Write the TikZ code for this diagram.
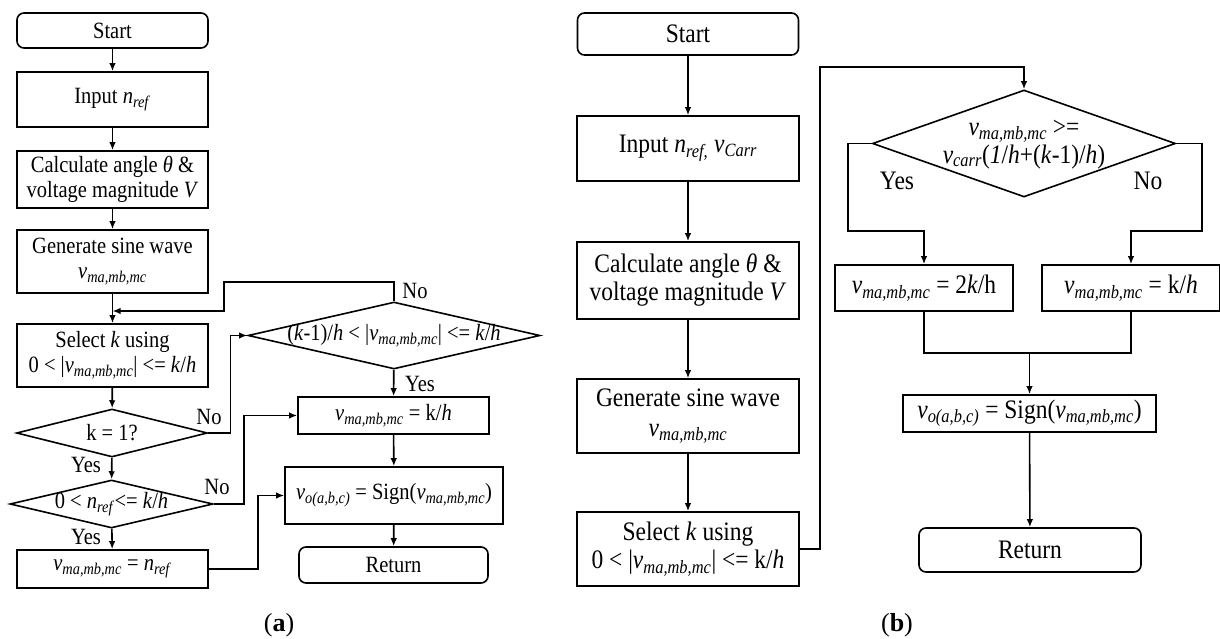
\documentclass[tikz,border=0pt]{standalone}
\usepackage{fontspec}
\setmainfont[FakeStretch=0.88]{Liberation Serif}
\newfontfamily\capfont{Liberation Serif}
\usetikzlibrary{shapes.geometric,arrows.meta}

\newcommand{\vsb}[1]{\textit{v}\textsubscript{\textit{#1}}}
\newcommand{\nrf}{\textit{n}\textsubscript{\textit{ref}}}
\newcommand{\dtxt}[1]{\makebox[0pt]{#1}}

\begin{document}
\begin{tikzpicture}[x=1pt, y=-1pt, line width=1.6pt, >={Latex[length=8pt,width=6.5pt]},
  box/.style={draw, rectangle, align=center, inner sep=0pt},
  term/.style={box, rounded corners=7pt},
  decide/.style={draw, diamond, inner sep=0pt},
  fa/.style={font=\fontsize{23.3}{25}\selectfont},
  fb/.style={font=\fontsize{26.7}{28}\selectfont},
  lbla/.style={fa, inner sep=0pt},
  lblb/.style={fb, inner sep=0pt}]
  \useasboundingbox (0,0) rectangle (1220,639);
  % (a)
  \node[term, fa, minimum width=191pt, minimum height=35pt] (startA) at (112.5,30.5) {Start};
  \node[box, fa, minimum width=191pt, minimum height=55pt] (inA) at (112.5,99.5) {Input \nrf};
  \node[box, fa, minimum width=191pt, minimum height=57pt] (calcA) at (112.5,179.5) {Calculate angle \textit{θ} \&\\voltage magnitude \textit{V}};
  \node[box, fa, minimum width=191pt, minimum height=63pt] (genA) at (112.5,261.5) {Generate sine wave\\\vsb{ma,mb,mc}};
  \node[box, fa, minimum width=191pt, minimum height=63pt] (selA) at (112.5,355.5) {Select \textit{k} using\\0 < |\vsb{ma,mb,mc}| <= \textit{k}/\textit{h}};
  \node[decide, fa, minimum width=191pt, minimum height=48pt] (dk1) at (112,433) {\dtxt{k = 1?}};
  \node[decide, fa, minimum width=203pt, minimum height=48pt] (dnref) at (111.5,504) {\dtxt{0 < \nrf <= \textit{k}/\textit{h}}};
  \node[box, fa, minimum width=191pt, minimum height=38pt] (setA) at (112.5,569) {\vsb{ma,mb,mc} = \nrf};
  \node[decide, fa, minimum width=292pt, minimum height=67pt] (drange) at (394,335.5) {\dtxt{(\textit{k}-1)/\textit{h} < |\vsb{ma,mb,mc}| <= \textit{k}/\textit{h}}};
  \node[box, fa, minimum width=191pt, minimum height=37pt] (kA) at (393.5,415.5) {\vsb{ma,mb,mc} = k/\textit{h}};
  \node[box, fa, minimum width=218pt, minimum height=57pt] (signA) at (394,495.5) {\vsb{o(a,b,c)} = Sign(\vsb{ma,mb,mc})};
  \node[term, fa, minimum width=189pt, minimum height=36pt] (retA) at (393.5,565) {Return};
  \coordinate (mergeA) at (112.5,311);

  \draw[->] (startA) -- (inA);
  \draw[->] (inA) -- (calcA);
  \draw[->] (calcA) -- (genA);
  \draw[->] (genA) -- (selA);
  \draw[->] (selA) -- (dk1);
  \draw[->] (dk1) -- (dnref);
  \draw[->] (dnref) -- (setA);
  \draw[->] (dk1.east) -- ++(22,0) |- (drange.west);
  \draw[->] (dnref.east) -- ++(30,0) |- (kA.west);
  \draw[->] (setA.east) -- ++(49,0) |- (signA.west);
  \draw[->] (drange.north) |- (224,282) |- (mergeA);
  \draw[->] (drange) -- (kA);
  \draw[->] (kA) -- (signA);
  \draw[->] (signA) -- (retA);

  \node[lbla] (noA1) at (415,291) {No};
  \node[lbla] (noA2) at (209,417) {No};
  \node[lbla] (yesA1) at (86,465) {Yes};
  \node[lbla] (noA3) at (217,487) {No};
  \node[lbla] (yesA2) at (86,537) {Yes};
  \node[lbla] (yesA3) at (420,384) {Yes};
  \node[font=\capfont\fontsize{26}{30}\selectfont] (capA) at (279,625) {(\textbf{a})};

  % (b)
  \node[term, fb, minimum width=221pt, minimum height=42pt] (startB) at (688,34) {Start};
  \node[box, fb, minimum width=222pt, minimum height=65pt] (inB) at (688,148.5) {Input \textit{n}\textsubscript{\textit{ref,}} \vsb{Carr}};
  \node[box, fb, minimum width=222pt, minimum height=77pt] (calcB) at (688,280.5) {Calculate angle \textit{θ} \&\\voltage magnitude \textit{V}};
  \node[box, fb, minimum width=222pt, minimum height=74pt] (genB) at (688,416) {Generate sine wave\\[2pt]\vsb{ma,mb,mc}};
  \node[box, fb, minimum width=222pt, minimum height=74pt] (selB) at (688,549) {Select \textit{k} using\\0 < |\vsb{ma,mb,mc}| <= k/\textit{h}};
  \node[decide, fb, minimum width=303pt, minimum height=107pt] (dcarr) at (1024,143.5) {\dtxt{\raisebox{4pt}{\begin{tabular}{@{}c@{}}\vsb{ma,mb,mc} >=\\\vsb{carr}(\textit{1}/\textit{h}+(\textit{k}-1)/\textit{h})\end{tabular}}}};
  \node[box, fb, minimum width=178pt, minimum height=46pt] (k2B) at (924,288) {\vsb{ma,mb,mc} = 2\textit{k}/h};
  \node[box, fb, minimum width=178pt, minimum height=46pt] (k1B) at (1131,288) {\vsb{ma,mb,mc} = k/\textit{h}};
  \node[box, fb, minimum width=253pt, minimum height=37pt] (signB) at (1029.5,413.5) {\vsb{o(a,b,c)} = Sign(\vsb{ma,mb,mc})};
  \node[term, fb, minimum width=222pt, minimum height=44pt] (retB) at (1030,550) {Return};
  \coordinate (joinB) at (1029.5,353);

  \draw[->] (startB) -- (inB);
  \draw[->] (inB) -- (calcB);
  \draw[->] (calcB) -- (genB);
  \draw[->] (genB) -- (selB);
  \draw[->] (selB.east) -| (820,67) -| (dcarr.north);
  \draw[->] (dcarr.west) -| (848,231) -| (k2B.north);
  \draw[->] (dcarr.east) -| (1202,231) -| (k1B.north);
  \draw (k2B.south) |- (joinB) -| (k1B.south);
  \draw[->] (joinB) -- (signB);
  \draw[->] (signB) -- (retB);

  \node[lblb] (yesB) at (897,181) {Yes};
  \node[lblb] (noB) at (1148,181) {No};
  \node[font=\capfont\fontsize{26}{30}\selectfont] (capB) at (897,625) {(\textbf{b})};
\end{tikzpicture}
\end{document}
